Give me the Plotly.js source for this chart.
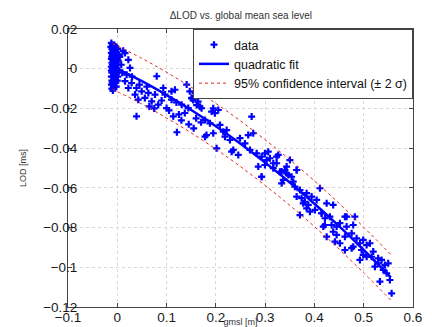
<!DOCTYPE html>
<html>
<head>
<meta charset="utf-8">
<script src="https://cdn.plot.ly/plotly-3.0.1.min.js"></script>
<style>html,body{margin:0;padding:0;background:#fff;}#chart{width:432px;height:327px;}</style>
</head>
<body>
<div id="chart"></div>
<script>
// scattered observations: gmsl [m] vs LOD [ms]
const dataX = [
-0.012,-0.010,-0.008,-0.011,-0.006,-0.009,-0.012,-0.004,-0.007,-0.010,-0.005,-0.002,-0.011,-0.008,-0.003,-0.012,-0.006,-0.009,-0.001,-0.004,
-0.011,-0.007,-0.002,-0.010,-0.005,-0.012,-0.008,-0.003,-0.010,-0.006,-0.001,-0.012,-0.008,-0.004,-0.011,-0.007,-0.002,-0.012,-0.009,-0.005,
-0.011,-0.007,-0.003,-0.010,-0.012,-0.008,-0.005,-0.011,-0.009,0.000,0.002,0.001,-0.003,0.003,0.000,-0.006,-0.013,-0.002,0.001,0.004,
0.0156,0.0224,0.0258,0.019,0.0156,0.029,0.0224,0.039,0.036,0.0495,0.056,0.063,0.0426,0.0698,0.080,0.0765,0.083,0.0933,0.0968,0.110,
0.117,0.110,0.100,0.039,0.1136,0.1306,0.137,0.144,0.151,0.147,0.1408,0.1576,0.005,0.008,0.010,0.012,0.030,0.045,0.060,0.065,
0.075,0.090,0.105,0.120,0.125,0.130,0.145,0.155,0.160,0.170,0.121,
0.154,0.161,0.1677,0.151,0.164,0.171,0.1947,0.1914,0.2049,0.198,0.178,0.188,0.2083,0.215,0.2219,0.181,0.1947,0.178,0.2016,0.2185,
0.2286,0.232,0.2353,0.2455,0.2489,0.259,0.2657,0.2726,0.2692,0.2759,0.2828,0.286,0.2929,0.2929,0.2996,0.3063,0.303,0.3097,0.3165,0.3233,
0.3266,0.330,0.3335,0.3402,0.3436,0.347,0.3503,0.3537,0.3639,0.3604,0.3639,0.374,0.3773,0.3807,0.3706,0.3842,
0.3233,0.364,0.3165,0.2996,0.3335,0.3436,0.2929,0.3368,0.357,0.3706,0.3842,0.3943,0.4045,0.4112,0.3875,0.401,0.4248,0.4146,0.3909,0.4314,
0.4653,0.445,0.4213,
0.438,0.4619,0.482,0.4787,0.4653,0.4517,0.4349,0.4213,0.4146,0.418,0.4381,0.445,0.4248,0.4416,0.4619,0.4755,0.4787,0.4856,0.4923,0.499,
0.5059,0.5126,0.4957,0.4619,0.499,0.5193,0.516,0.5294,0.5363,0.5294,0.543,0.5497,0.5396,0.5465,0.5531,0.5329,0.5566,0.5059,0.5227,0.4923,
0.4755,0.4517
];
const dataY = [
0.013,0.012,0.011,0.010,0.010,0.009,0.008,0.009,0.008,0.007,0.007,0.008,0.006,0.006,0.006,0.005,0.005,0.004,0.005,0.004,
0.003,0.003,0.003,0.002,0.002,0.001,0.001,0.001,0.000,0.000,0.000,-0.001,-0.001,-0.002,-0.002,-0.003,-0.003,-0.004,-0.004,-0.005,
-0.006,-0.006,-0.007,-0.007,-0.008,-0.009,-0.009,-0.010,-0.011,-0.006,0.004,0.010,0.011,-0.001,0.002,0.012,0.011,-0.009,-0.004,0.007,
0.0079,0.0045,0.0004,-0.003,-0.0063,-0.0072,-0.0097,-0.0097,-0.013,-0.0114,-0.0147,-0.0122,-0.0156,-0.0164,-0.0038,-0.013,-0.0181,-0.0097,-0.013,-0.0114,
-0.0106,-0.0156,-0.0198,-0.024,-0.024,-0.0181,-0.0223,-0.0198,-0.0147,-0.0114,-0.008,-0.0122,0.006,0.002,-0.002,0.009,-0.004,-0.008,-0.009,-0.019,
-0.020,-0.016,-0.021,-0.017,-0.023,-0.026,-0.028,-0.030,-0.025,-0.027,-0.032,
-0.0158,-0.0183,-0.0191,-0.0149,-0.0166,-0.0199,-0.0199,-0.0216,-0.0208,-0.0224,-0.0258,-0.0275,-0.0283,-0.0317,-0.0309,-0.0334,-0.0325,-0.0342,-0.0401,-0.0342,
-0.0359,-0.0418,-0.0409,-0.0434,-0.035,-0.0376,-0.0334,-0.0241,-0.0409,-0.0325,-0.0426,-0.0493,-0.0544,-0.0443,-0.0426,-0.0418,-0.046,-0.0451,-0.0501,-0.0476,
-0.0434,-0.0519,-0.0577,-0.051,-0.0493,-0.0535,-0.046,-0.0544,-0.051,-0.0594,-0.0644,-0.0652,-0.0678,-0.067,-0.0737,-0.0703,
-0.0443,-0.051,-0.0476,-0.0485,-0.0518,-0.0527,-0.0544,-0.056,-0.0569,-0.0611,-0.0627,-0.0644,-0.0661,-0.0602,-0.0686,-0.0711,-0.0678,-0.0728,-0.072,-0.0745,
-0.0745,-0.0795,-0.0787,
-0.0686,-0.0745,-0.0745,-0.0787,-0.0795,-0.0778,-0.0787,-0.0753,-0.0728,-0.0795,-0.0821,-0.0837,-0.0846,-0.0871,-0.0846,-0.0829,-0.0896,-0.0854,-0.0879,-0.0862,
-0.0888,-0.0879,-0.0913,-0.0913,-0.0938,-0.0921,-0.0947,-0.0955,-0.0963,-0.098,-0.0988,-0.098,-0.1013,-0.103,-0.1064,-0.1072,-0.1131,-0.0947,-0.0997,-0.0963,
-0.0904,-0.0879
];
// quadratic fit and 95% confidence band
const fitX = [-0.01,0.05,0.1,0.15,0.2,0.25,0.3,0.35,0.4,0.45,0.5,0.555];
const fitY = [0.0012,-0.0063,-0.0133,-0.0208,-0.029,-0.0378,-0.0473,-0.0573,-0.068,-0.0793,-0.0913,-0.1051];
const upperY = [0.0127,0.0052,-0.0018,-0.0093,-0.0175,-0.0263,-0.0358,-0.0458,-0.0565,-0.0678,-0.0798,-0.0936];
const lowerY = [-0.0103,-0.0178,-0.0248,-0.0323,-0.0405,-0.0493,-0.0588,-0.0688,-0.0795,-0.0908,-0.1028,-0.1166];
const xTicks = [-0.1,0,0.1,0.2,0.3,0.4,0.5,0.6];
const yTicks = [-0.12,-0.1,-0.08,-0.06,-0.04,-0.02,0,0.02];

const FONT = 'Liberation Sans, Arial, Helvetica, sans-serif';
const traces = [
  {x: dataX, y: dataY, type: 'scatter', mode: 'markers', name: 'data',
   marker: {symbol: 'cross-thin-open', size: 5, color: '#0000ff', line: {color: '#0000ff', width: 2.2}}},
  {x: fitX, y: fitY, type: 'scatter', mode: 'lines', name: 'quadratic fit',
   line: {color: '#0000ff', width: 2.5, shape: 'spline'}},
  {x: fitX, y: upperY, type: 'scatter', mode: 'lines', name: '95% confidence interval (± 2 σ)',
   line: {color: '#e82020', width: 1, dash: 'dot', shape: 'spline'}},
  {x: fitX, y: lowerY, type: 'scatter', mode: 'lines', name: 'lower', showlegend: false,
   line: {color: '#e82020', width: 1, dash: 'dot', shape: 'spline'}}
];
const axisCommon = {
  showline: true, mirror: 'ticks', linecolor: '#444', linewidth: 1,
  ticks: 'inside', ticklen: 4, tickcolor: '#444',
  showgrid: true, gridcolor: '#d8d8d8', griddash: 'dot', gridwidth: 1,
  zeroline: false, automargin: false,
  tickfont: {family: FONT, size: 13.5, color: '#1a1a1a'}
};
const layout = {
  width: 432, height: 327,
  margin: {l: 68, r: 19, t: 29, b: 20},
  paper_bgcolor: '#fff', plot_bgcolor: '#fff',
  showlegend: true,
  title: {text: 'ΔLOD vs. global mean sea level', font: {family: FONT, size: 10, color: '#333'},
          x: 0.501, xref: 'paper', xanchor: 'center', y: 0.954, yanchor: 'middle'},
  xaxis: Object.assign({}, axisCommon, {
    range: [-0.1, 0.6], tickvals: xTicks, ticktext: xTicks.map(v => v < 0 ? '−' + Math.abs(v) : String(v)),
    ticklabelstandoff: -2,
    title: {text: 'gmsl [m]', font: {family: FONT, size: 9, color: '#333'}, standoff: 5}
  }),
  yaxis: Object.assign({}, axisCommon, {
    range: [-0.12, 0.02], tickvals: yTicks, ticktext: yTicks.map(v => v < 0 ? '−' + Math.abs(v) : String(v)),
    ticklabelstandoff: -13,
    title: {text: 'LOD [ms]', font: {family: FONT, size: 9, color: '#333'}, standoff: 14}
  }),
  legend: {x: 1, y: 1, xanchor: 'right', yanchor: 'top', bgcolor: '#fff',
           bordercolor: '#444', borderwidth: 1, font: {family: FONT, size: 12.5, color: '#111'},
           tracegroupgap: 0, itemwidth: 30}
};
Plotly.newPlot('chart', traces, layout, {staticPlot: true, displayModeBar: false});
</script>
</body>
</html>
